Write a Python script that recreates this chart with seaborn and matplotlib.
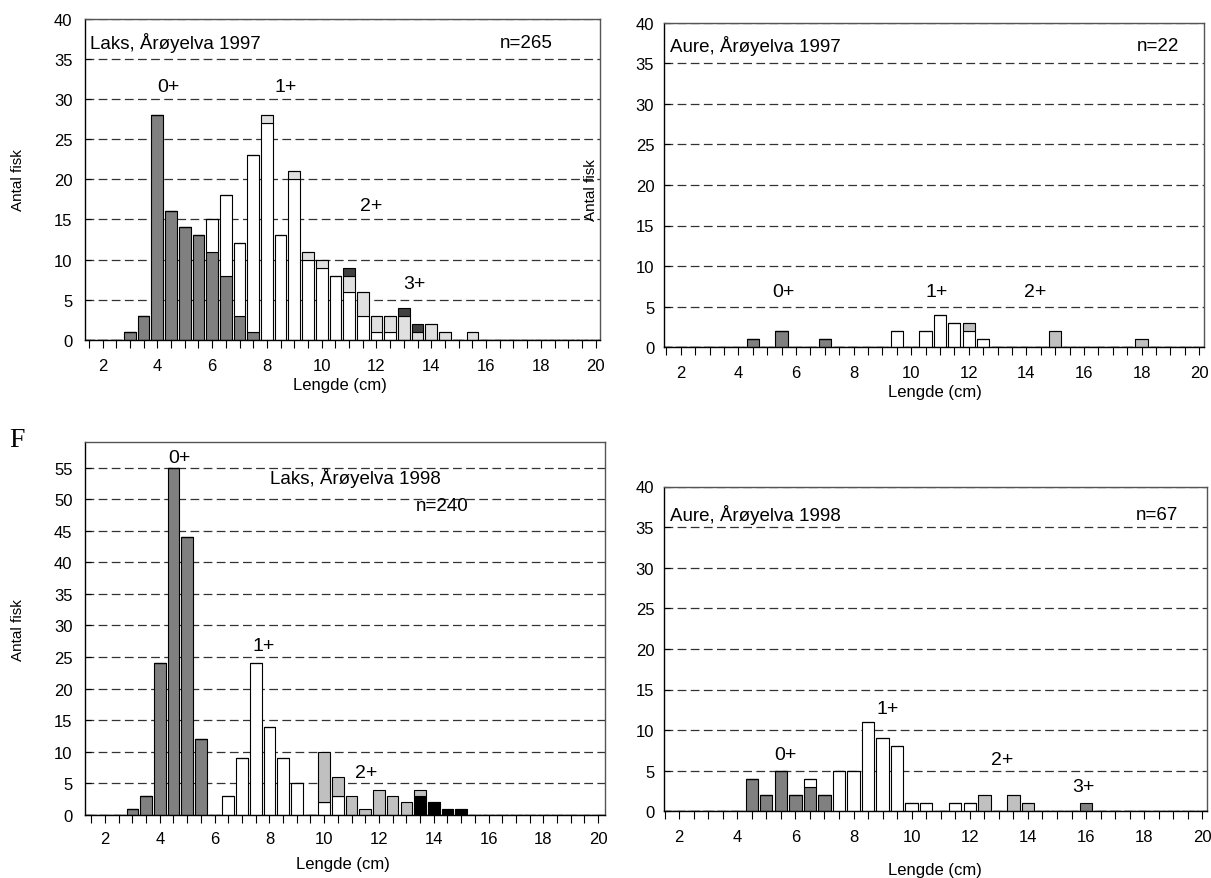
import numpy as np
import pandas as pd
import matplotlib
matplotlib.use("Agg")
import matplotlib.pyplot as plt
from matplotlib.ticker import FixedLocator, MultipleLocator
import seaborn as sns

sns.set_style("white")
plt.rcParams["font.family"] = ["Liberation Sans", "DejaVu Sans"]
plt.rcParams.update({"text.color": "black", "axes.labelcolor": "black",
                     "xtick.color": "black", "ytick.color": "black"})

AGES = ["0+", "1+", "2+", "3+"]
XTICK_LABELS = [2, 4, 6, 8, 10, 12, 14, 16, 18, 20]

# ---------------- Laks, Årøyelva 1997 (n=265) ----------------
laks97_len = [3.0, 3.5, 4.0, 4.5, 5.0, 5.5, 6.0, 6.5, 7.0, 7.5, 8.0, 8.5, 9.0,
              9.5, 10.0, 10.5, 11.0, 11.5, 12.0, 12.5, 13.0, 13.5, 14.0, 14.5, 15.0, 15.5]
laks97_0 = [1, 3, 28, 16, 14, 13, 11, 8, 3, 1, 0, 0, 0,
            0, 0, 0, 0, 0, 0, 0, 0, 0, 0, 0, 0, 0]
laks97_1 = [0, 0, 0, 0, 0, 0, 4, 10, 9, 22, 27, 13, 20,
            10, 9, 8, 6, 3, 1, 1, 0, 0, 0, 0, 0, 0]
laks97_2 = [0, 0, 0, 0, 0, 0, 0, 0, 0, 0, 1, 0, 1,
            1, 1, 0, 2, 3, 2, 2, 3, 1, 2, 1, 0, 1]
laks97_3 = [0, 0, 0, 0, 0, 0, 0, 0, 0, 0, 0, 0, 0,
            0, 0, 0, 1, 0, 0, 0, 1, 1, 0, 0, 0, 0]

# ---------------- Aure, Årøyelva 1997 (n=22) ----------------
aure97_len = [4.5, 5.5, 7.0, 9.5, 10.5, 11.0, 11.5, 12.0, 12.5, 15.0, 18.0]
aure97_0 = [1, 2, 1, 0, 0, 0, 0, 0, 0, 0, 0]
aure97_1 = [0, 0, 0, 2, 2, 4, 3, 2, 1, 0, 0]
aure97_2 = [0, 0, 0, 0, 0, 0, 0, 1, 0, 2, 1]
aure97_3 = [0, 0, 0, 0, 0, 0, 0, 0, 0, 0, 0]

# ---------------- Laks, Årøyelva 1998 (n=240) ----------------
laks98_len = [3.0, 3.5, 4.0, 4.5, 5.0, 5.5, 6.0, 6.5, 7.0, 7.5, 8.0, 8.5, 9.0,
              9.5, 10.0, 10.5, 11.0, 11.5, 12.0, 12.5, 13.0, 13.5, 14.0, 14.5, 15.0]
laks98_0 = [1, 3, 24, 55, 44, 12, 0, 0, 0, 0, 0, 0, 0,
            0, 0, 0, 0, 0, 0, 0, 0, 0, 0, 0, 0]
laks98_1 = [0, 0, 0, 0, 0, 0, 0, 3, 9, 24, 14, 9, 5,
            0, 2, 3, 0, 0, 0, 0, 0, 0, 0, 0, 0]
laks98_2 = [0, 0, 0, 0, 0, 0, 0, 0, 0, 0, 0, 0, 0,
            0, 8, 3, 3, 1, 4, 3, 2, 1, 0, 0, 0]
laks98_3 = [0, 0, 0, 0, 0, 0, 0, 0, 0, 0, 0, 0, 0,
            0, 0, 0, 0, 0, 0, 0, 0, 3, 2, 1, 1]

# ---------------- Aure, Årøyelva 1998 (n=67) ----------------
aure98_len = [4.5, 5.0, 5.5, 6.0, 6.5, 7.0, 7.5, 8.0, 8.5, 9.0, 9.5, 10.0,
              10.5, 11.5, 12.0, 12.5, 13.5, 14.0, 16.0]
aure98_0 = [4, 2, 5, 2, 3, 2, 0, 0, 0, 0, 0, 0, 0, 0, 0, 0, 0, 0, 0]
aure98_1 = [0, 0, 0, 0, 1, 0, 5, 5, 11, 9, 8, 1, 1, 1, 1, 0, 0, 0, 0]
aure98_2 = [0, 0, 0, 0, 0, 0, 0, 0, 0, 0, 0, 0, 0, 0, 0, 2, 2, 1, 0]
aure98_3 = [0, 0, 0, 0, 0, 0, 0, 0, 0, 0, 0, 0, 0, 0, 0, 0, 0, 0, 1]


def long_df(lengths, *groups):
    frames = []
    for age, counts in zip(AGES, groups):
        frames.append(pd.DataFrame({"length": lengths, "age": age, "count": counts}))
    return pd.concat(frames, ignore_index=True)


W, H = 1211, 879
fig = plt.figure(figsize=(W / 100, H / 100), dpi=100)


def px_axes(left, right, top, bottom):
    return fig.add_axes([left / W, 1 - bottom / H, (right - left) / W, (bottom - top) / H])


def draw_panel(ax, df, stack_order, palette, xlim, ymax, ystep_labels,
               title, title_xy, ntext, n_xy, age_labels, ylab_xy, xlab_xy, ypad, xpad):
    sns.histplot(data=df, x="length", weights="count", hue="age",
                 hue_order=stack_order[::-1], multiple="stack",
                 binwidth=0.5, binrange=(1.25, 20.25),
                 shrink=0.85, palette=palette, edgecolor="black", linewidth=0.8,
                 alpha=1, legend=False, ax=ax)
    ax.set_xlim(*xlim)
    ax.set_ylim(0, ymax)
    ax.set_yticks(ystep_labels)
    ax.xaxis.set_major_locator(FixedLocator(XTICK_LABELS))
    ax.xaxis.set_minor_locator(MultipleLocator(0.5))
    ax.tick_params(axis="x", which="both", direction="out", length=6, width=0.8,
                   color="black", labelsize=12, pad=xpad, bottom=True)
    ax.tick_params(axis="y", direction="in", length=4, width=0.8, color="black",
                   labelsize=12, pad=ypad, left=True)
    ax.set_axisbelow(True)
    ax.grid(axis="y", color="#333333", linewidth=0.9, linestyle=(0, (7, 3.5)))
    ax.grid(axis="x", visible=False)
    for side in ["left", "bottom"]:
        ax.spines[side].set_color("black")
        ax.spines[side].set_linewidth(1.0)
    for side in ["top", "right"]:
        ax.spines[side].set_color("#555555")
        ax.spines[side].set_linewidth(1.0)
    ax.set_xlabel("Lengde (cm)", fontsize=12)
    ax.xaxis.set_label_coords(*xlab_xy)
    ax.xaxis.label.set_va("center")
    if ylab_xy is not None:
        ax.set_ylabel("Antal fisk", fontsize=11)
        ax.yaxis.set_label_coords(*ylab_xy)
        ax.yaxis.label.set_va("center")
    else:
        ax.set_ylabel("")
    ax.text(title_xy[0], title_xy[1], title, fontsize=13.5, ha="left", va="center")
    ax.text(n_xy[0], n_xy[1], ntext, fontsize=13.5, ha="left", va="center")
    for lab, (x, y) in age_labels.items():
        ax.text(x, y, lab, fontsize=14, ha="center", va="center")


# Top-left
ax1 = px_axes(85, 600, 20, 340.7)
draw_panel(ax1, long_df(laks97_len, laks97_0, laks97_1, laks97_2, laks97_3),
           ["0+", "1+", "2+", "3+"],
           {"0+": "#808080", "1+": "#ffffff", "2+": "#e0e0e0", "3+": "#404040"},
           (1.36, 20.16), 40, list(range(0, 41, 5)),
           "Laks, Årøyelva 1997", (1.55, 37.1), "n=265", (16.5, 37.1),
           {"0+": (4.4, 31.6), "1+": (8.7, 31.6), "2+": (11.8, 16.7), "3+": (13.4, 7.0)},
           (-0.130, 0.5), (0.495, -0.141), 9, 7)

# Top-right
ax2 = px_axes(664, 1204, 23.5, 348.3)
draw_panel(ax2, long_df(aure97_len, aure97_0, aure97_1, aure97_2, aure97_3),
           ["0+", "1+", "2+", "3+"],
           {"0+": "#808080", "1+": "#ffffff", "2+": "#c0c0c0", "3+": "#404040"},
           (1.42, 20.17), 40, list(range(0, 41, 5)),
           "Aure, Årøyelva 1997", (1.63, 37.2), "n=22", (17.85, 37.2),
           {"0+": (5.55, 6.9), "1+": (10.9, 6.9), "2+": (14.3, 6.9)},
           (-0.135, 0.487), (0.502, -0.135), 7, 7)

# Bottom-left
ax3 = px_axes(85, 605, 443.3, 816)
draw_panel(ax3, long_df(laks98_len, laks98_0, laks98_1, laks98_2, laks98_3),
           ["0+", "1+", "3+", "2+"],
           {"0+": "#808080", "1+": "#ffffff", "2+": "#c0c0c0", "3+": "#000000"},
           (1.27, 20.25), 59, list(range(0, 56, 5)),
           "Laks, Årøyelva 1998", (8.03, 53.5), "n=240", (13.35, 49.0),
           {"0+": (4.7, 56.6), "1+": (7.78, 26.8), "2+": (11.53, 6.75)},
           (-0.129, 0.5), (0.496, -0.131), 9, 5.3)

# Bottom-right
ax4 = px_axes(664, 1207, 487.5, 812.3)
draw_panel(ax4, long_df(aure98_len, aure98_0, aure98_1, aure98_2, aure98_3),
           ["0+", "1+", "2+", "3+"],
           {"0+": "#808080", "1+": "#ffffff", "2+": "#c0c0c0", "3+": "#808080"},
           (1.48, 20.16), 40, list(range(0, 41, 5)),
           "Aure, Årøyelva 1998", (1.69, 36.6), "n=67", (17.7, 36.6),
           {"0+": (5.65, 7.0), "1+": (9.17, 12.6), "2+": (13.13, 6.4), "3+": (15.92, 3.05)},
           None, (0.499, -0.178), 7, 7)

fig.text(16.5 / W, 1 - 441 / H, "F", fontsize=20, ha="center", va="center",
         family=["Liberation Serif", "DejaVu Serif"])

fig.savefig("out.png", dpi=100)
